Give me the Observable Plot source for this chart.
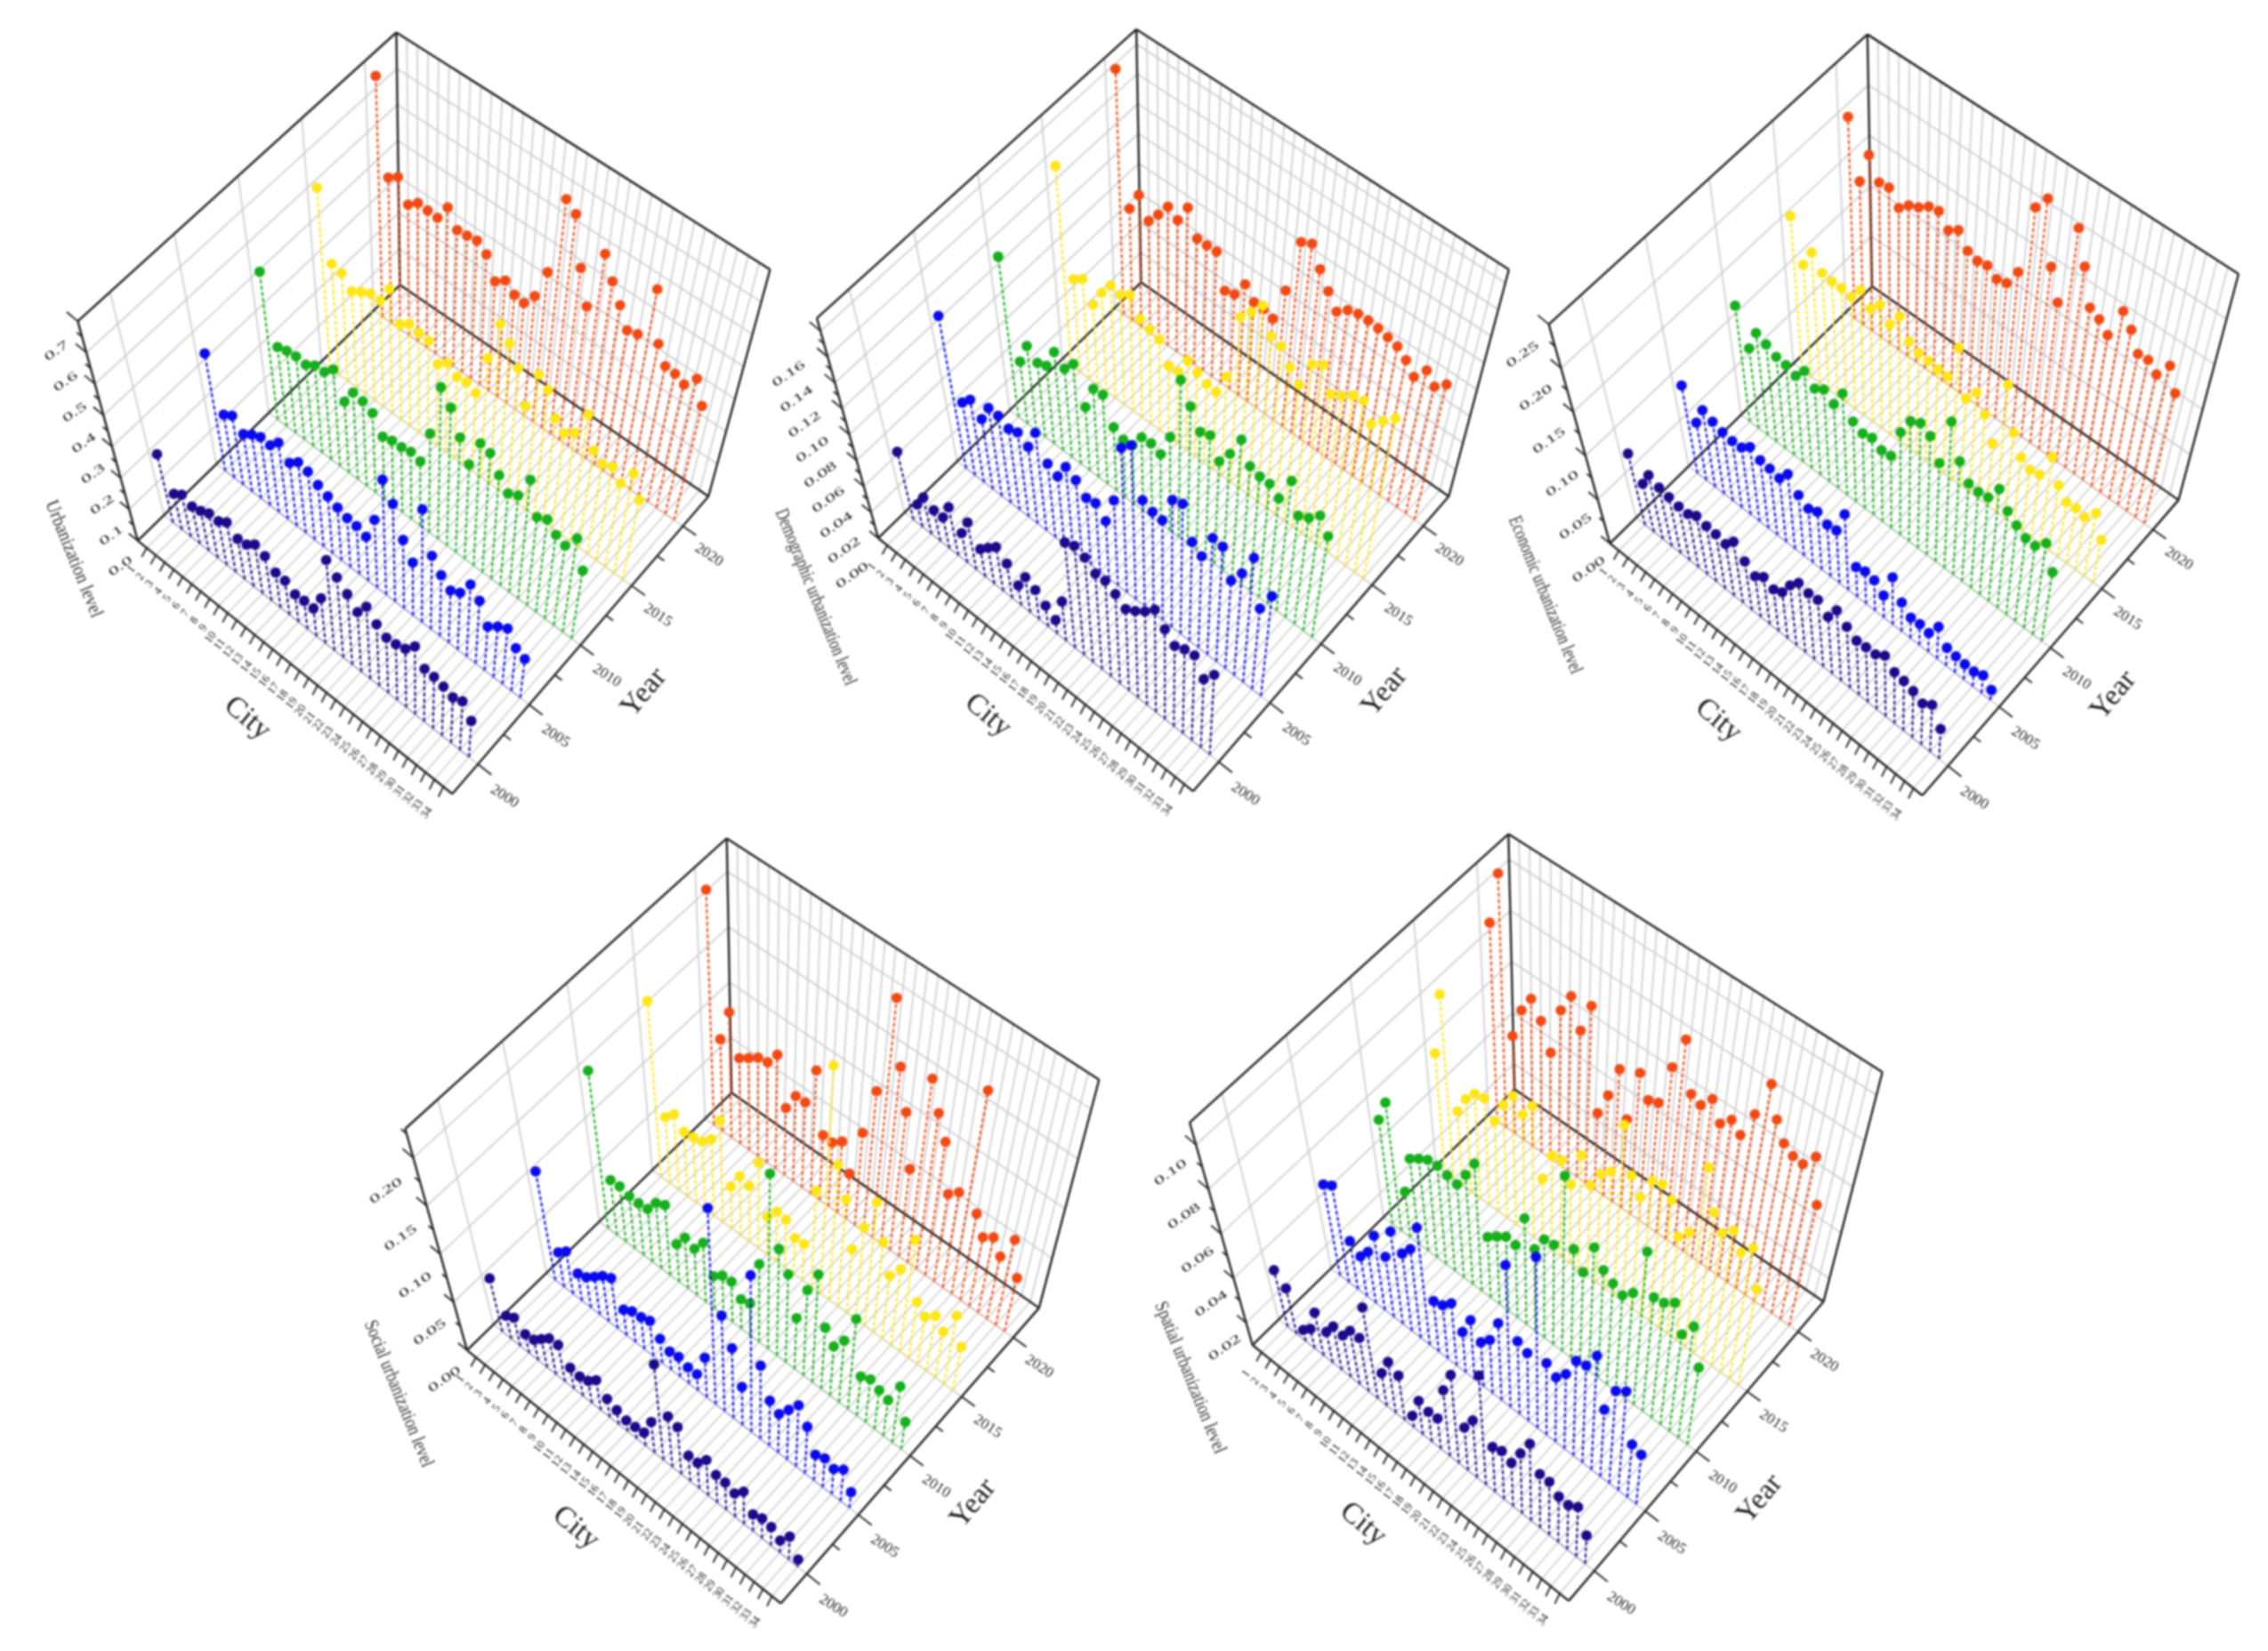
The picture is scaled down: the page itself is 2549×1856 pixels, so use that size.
<!DOCTYPE html>
<html><head><meta charset="utf-8">
<style>html,body{margin:0;background:#fff}svg{display:block;filter:blur(.8px)}</style>
<script src="https://cdn.jsdelivr.net/npm/d3@7"></script>
<script src="https://cdn.jsdelivr.net/npm/@observablehq/plot@0.6"></script>
</head><body><div id="chart"></div><script>
const years=[2000,2005,2010,2015,2020];
const yearColors=["#1c0a8c","#0a0af0","#16b01c","#ffe619","#f24a12"];
const cities=d3.range(1,35);
const urban2000=[.228,.120,.142,.127,.137,.154,.153,.175,.143,.149,.176,.161,.128,.125,.102,.105,.104,.170,.345,.308,.273,.233,.284,.245,.222,.226,.238,.279,.218,.216,.207,.193,.208,.156];
const urban2005=[.375,.203,.223,.187,.209,.225,.222,.255,.212,.239,.232,.211,.197,.183,.172,.169,.157,.243,.414,.354,.250,.194,.418,.273,.228,.198,.217,.277,.243,.171,.199,.220,.171,.156];
const urban2010=[.451,.243,.253,.258,.254,.274,.276,.307,.227,.279,.274,.259,.205,.215,.217,.225,.216,.334,.517,.473,.396,.328,.427,.419,.367,.328,.347,.430,.321,.339,.309,.296,.350,.256];
const urban2015=[.527,.325,.318,.285,.304,.320,.320,.376,.290,.312,.306,.303,.252,.277,.255,.260,.247,.381,.515,.475,.418,.318,.444,.417,.346,.320,.345,.431,.332,.310,.325,.291,.350,.281];
const urban2020=[.674,.409,.430,.371,.395,.393,.392,.442,.396,.400,.406,.385,.325,.348,.325,.321,.362,.456,.702,.679,.534,.436,.623,.559,.506,.448,.458,.626,.472,.422,.420,.407,.449,.381];
const demo2000=[.0551,.0183,.0300,.0255,.0257,.0404,.0248,.0401,.0237,.0311,.0382,.0302,.0175,.0312,.0263,.0189,.0124,.0360,.0976,.1018,.0982,.0906,.0913,.0860,.0791,.0848,.0922,.1017,.0900,.0813,.0857,.0875,.0710,.0837];
const demo2005=[.118,.0566,.0646,.0552,.0697,.0696,.0651,.0681,.0625,.0800,.0608,.0564,.0704,.0656,.0568,.0586,.0495,.0738,.1263,.1354,.0938,.0904,.0896,.1149,.1185,.0907,.0845,.1086,.1078,.0830,.0971,.1195,.0779,.0974];
const demo2010=[.1185,.0462,.0630,.0558,.0589,.0748,.0676,.0768,.0490,.0688,.0697,.0499,.0457,.0468,.0588,.0596,.0567,.0766,.1297,.1141,.0992,.1025,.0868,.0995,.1181,.1017,.0992,.0994,.0931,.1151,.0908,.0956,.1043,.0923];
const demo2015=[.1413,.0660,.0712,.0578,.0713,.0817,.0802,.0852,.0726,.0702,.0679,.0533,.0541,.0675,.0638,.0603,.0594,.0767,.1292,.1389,.1499,.1315,.1295,.1186,.1102,.1328,.1385,.1205,.1253,.1318,.1336,.1201,.1289,.1378];
const demo2020=[.1664,.0762,.0902,.0770,.0862,.0965,.0919,.1056,.0886,.0887,.0891,.0660,.0682,.0803,.0724,.0720,.0701,.0960,.1373,.1415,.1277,.1164,.1063,.1128,.1154,.1158,.1152,.1137,.1121,.1068,.0990,.1098,.1023,.1098];
const econ2000=[.0853,.0581,.0775,.0717,.0690,.0668,.0667,.0737,.0703,.0694,.0665,.0792,.0634,.0536,.0623,.0558,.0619,.0814,.0950,.0913,.0928,.0797,.0995,.0869,.0779,.0793,.0799,.0890,.0759,.0741,.0700,.0626,.0720,.0460];
const econ2005=[.1003,.0661,.0889,.0840,.0803,.0784,.0795,.0888,.0818,.0804,.0777,.0917,.0748,.0670,.0721,.0652,.0671,.0969,.0384,.0420,.0396,.0289,.0624,.0384,.0275,.0284,.0257,.0439,.0247,.0226,.0213,.0208,.0254,.0143];
const econ2010=[.1265,.0877,.1125,.1079,.1022,.1010,.0969,.1105,.0987,.1058,.0974,.1181,.0938,.0882,.0913,.0850,.0868,.1241,.1465,.1532,.1464,.1220,.1831,.1428,.1240,.1227,.1250,.1453,.1260,.1171,.1097,.1091,.1225,.0931];
const econ2015=[.1608,.1173,.1378,.1235,.1220,.1226,.1207,.1355,.1231,.1352,.1215,.1380,.1178,.1131,.1121,.1103,.1104,.1512,.1009,.1159,.0984,.0726,.1502,.1014,.0801,.0737,.0761,.1059,.0796,.0672,.0683,.0654,.0791,.0537];
const econ2020=[.2019,.1441,.1779,.1572,.1591,.1453,.1552,.1604,.1686,.1712,.1584,.1659,.1512,.1481,.1506,.1435,.1465,.1662,.2451,.2631,.1955,.1635,.2553,.2201,.1818,.1767,.1665,.2023,.1891,.1692,.1704,.1616,.1804,.1559];
const social2000=[.0581,.0253,.0312,.0210,.0229,.0319,.0410,.0419,.0241,.0225,.0257,.0351,.0217,.0169,.0132,.0140,.0160,.0380,.1188,.0634,.0593,.0326,.0328,.0459,.0361,.0357,.0311,.0433,.0225,.0269,.0250,.0166,.0320,.0103];
const social2005=[.1129,.0361,.0446,.0288,.0324,.0404,.0492,.0546,.0280,.0340,.0354,.0391,.0270,.0207,.0226,.0186,.0187,.0462,.2301,.1129,.0832,.0457,.1890,.0889,.0550,.0477,.0617,.0765,.0587,.0325,.0368,.0324,.0408,.0206];
const social2010=[.1567,.0548,.0557,.0528,.0526,.0540,.0673,.0725,.0392,.0532,.0490,.0627,.0346,.0426,.0435,.0319,.0349,.0858,.1943,.1189,.0986,.0573,.0970,.1234,.0706,.0571,.0721,.1058,.0465,.0512,.0465,.0430,.0682,.0333];
const social2015=[.1670,.0630,.0724,.0621,.0635,.0659,.0750,.1003,.0415,.0585,.0557,.0861,.0382,.0502,.0489,.0367,.0375,.1001,.2398,.1427,.1136,.0678,.0987,.1338,.0980,.0689,.0837,.1238,.0625,.0535,.0622,.0519,.0780,.0501];
const social2020=[.2147,.0843,.1154,.0792,.0855,.0922,.0943,.1077,.0635,.0813,.0817,.1189,.0629,.0622,.0696,.0443,.0912,.1396,.2401,.1783,.1397,.0888,.1883,.1603,.1380,.0908,.0997,.2143,.0914,.0735,.0806,.0670,.0924,.0581];
const spatial2000=[.0367,.0316,.0153,.0193,.0308,.0250,.0313,.0305,.0366,.0368,.0561,.0266,.0361,.0330,.0160,.0276,.0258,.0262,.0454,.0578,.0334,.0414,.0706,.0351,.0371,.0347,.0444,.0544,.0413,.0413,.0370,.0365,.0399,.0272];
const spatial2005=[.0509,.0538,.0319,.0282,.0336,.0445,.0381,.0535,.0466,.0523,.0662,.0344,.0359,.0405,.0299,.0394,.0320,.0368,.0490,.0826,.0474,.0452,.0993,.0477,.0441,.0499,.0609,.0626,.0721,.0467,.0612,.0653,.0397,.0381];
const spatial2010=[.0548,.0654,.0298,.0473,.0505,.0532,.0538,.0528,.0520,.0595,.0681,.0378,.0413,.0445,.0439,.0599,.0488,.0568,.0578,.0947,.0628,.0551,.0709,.0634,.0604,.0582,.0631,.0879,.0684,.0694,.0734,.0607,.0688,.0509];
const spatial2015=[.0592,.0865,.0408,.0488,.0540,.0551,.0484,.0582,.0651,.0602,.0670,.0383,.0514,.0525,.0448,.0610,.0507,.0589,.0633,.0879,.0681,.0613,.0722,.0739,.0700,.0561,.0615,.0961,.0780,.0715,.0763,.0691,.0748,.0580];
const spatial2020=[.0885,.1109,.0489,.0619,.0693,.0632,.0530,.0731,.0818,.0705,.0836,.0418,.0520,.0659,.0475,.0702,.0615,.0633,.0817,.0969,.0762,.0744,.0801,.0724,.0772,.0735,.0861,.1031,.0902,.0825,.0799,.0795,.0862,.0668];
const urbanTicks=[0,.1,.2,.3,.4,.5,.6,.7];
const demoTicks=[0,.02,.04,.06,.08,.10,.12,.14,.16];
const econTicks=[0,.05,.10,.15,.20,.25];
const socialTicks=[0,.05,.10,.15,.20];
const spatialTicks=[.02,.04,.06,.08,.10];

// Panel layout: a perspective box (floor corners, vanishing point) in a local frame placed on the page.
const panels=[
 {name:"Urbanization level",series:[urban2000,urban2005,urban2010,urban2015,urban2020],ticks:urbanTicks,fmt:1,vmin:0,vtop:.7,
  ox:0,oy:0,sx:1.782,sy:1.704,L:[275,1035],B:[800,545],F:[905,1520],R:[1418,950],vp:[836,3000],ttl:[-2.7,1993.8],tlen:140,zl:[.5,1995.4]},
 {name:"Demographic urbanization level",series:[demo2000,demo2005,demo2010,demo2015,demo2020],ticks:demoTicks,fmt:2,vmin:0,vtop:.17,
  ox:850,oy:0,sx:1.845,sy:1.704,L:[252,1030],B:[797,540],F:[905,1515],R:[1435,950],vp:[847,3000],ttl:[-.1,1991.7],tlen:212,zl:[.7,1994.4]},
 {name:"Economic urbanization level",series:[econ2000,econ2005,econ2010,econ2015,econ2020],ticks:econTicks,fmt:2,vmin:0,vtop:.25,
  ox:1680,oy:0,sx:1.823,sy:1.704,L:[235,1040],B:[772,548],F:[875,1523],R:[1400,957],vp:[820,3000],ttl:[-.7,1992],tlen:189,zl:[.3,1995.2]},
 {name:"Social urbanization level",series:[social2000,social2005,social2010,social2015,social2020],ticks:socialTicks,fmt:2,vmin:0,vtop:.23,
  ox:390,oy:920,sx:1.823,sy:1.704,L:[245,1018],B:[787,525],F:[888,1503],R:[1417,937],vp:[837,3000],ttl:[-1.4,1992.3],tlen:176,zl:[.4,1995]},
 {name:"Spatial urbanization level",series:[spatial2000,spatial2005,spatial2010,spatial2015,spatial2020],ticks:spatialTicks,fmt:2,vmin:.01,vtop:.11,
  ox:1270,oy:920,sx:1.823,sy:1.704,L:[250,1008],B:[787,518],F:[898,1498],R:[1420,925],vp:[851,3000],ttl:[-1.7,1993.1],tlen:182,zl:[.2,1995.3]}
];
const C0=0,C1=35,Y0=1997.5,Y1=2022.5;
const KL=.214,KB=.197,KR=.212,KF=.2;
function project(p,c,y,v,frame){
  const u=(c-C0)/(C1-C0),w=(y-Y0)/(Y1-Y0);
  const mix=(a,b,d,e)=>(1-u)*((1-w)*a+w*b)+u*((1-w)*d+w*e);
  const fx=mix(p.L[0],p.B[0],p.F[0],p.R[0]),fy=mix(p.L[1],p.B[1],p.F[1],p.R[1]);
  const k=frame?mix(KL,KB,KF,KR):.2;
  const s=1+k*(v-p.vmin)/(p.vtop-p.vmin);
  return [p.ox+(p.vp[0]+(fx-p.vp[0])*s)/p.sx,p.oy+(p.vp[1]+(fy-p.vp[1])*s)/p.sy];
}
const px=(p,c,y,v,f)=>project(p,c,y,v,f)[0],py=(p,c,y,v,f)=>project(p,c,y,v,f)[1];

const rows=[],wallGrid=[],floorGrid=[],frameEdges=[],tickMarks=[],zLabels=[],yLabels=[],cLabels=[],titles=[],baseLines=[];
const seg=(p,a,b)=>({x1:px(p,...a,true),y1:py(p,...a,true),x2:px(p,...b,true),y2:py(p,...b,true)});
panels.forEach((p,pi)=>{
  p.series.forEach((vals,si)=>vals.forEach((value,ci)=>rows.push({panel:pi,year:years[si],city:cities[ci],value})));
  const lo=p.vmin,hi=p.vtop;
  cities.forEach(c=>{
    floorGrid.push(seg(p,[c,Y0,lo],[c,Y1,lo]));
    wallGrid.push(seg(p,[c,Y1,lo],[c,Y1,hi]));
    tickMarks.push(seg(p,[c,Y0,lo],[c+.25,Y0-.7,lo]));
    cLabels.push({text:String(c),x:px(p,c+.3,Y0-1.6,lo,true),y:py(p,c+.3,Y0-1.6,lo,true)});
  });
  years.forEach((y,i)=>{
    floorGrid.push(seg(p,[C0,y,lo],[C1,y,lo]));
    baseLines.push({...seg(p,[1,y,lo],[34,y,lo]),year:y});
    wallGrid.push(seg(p,[C0,y,lo],[C0,y,hi]));
    tickMarks.push(seg(p,[C1,y,lo],[C1+1.5,y,lo]));
    if(i<4)tickMarks.push(seg(p,[C1,y+2.5,lo],[C1+.8,y+2.5,lo]));
    yLabels.push({text:String(y),x:px(p,C1+3.6,y-.5,lo,true),y:py(p,C1+3.6,y-.5,lo,true)});
  });
  p.ticks.forEach((t,i)=>{
    wallGrid.push(seg(p,[C0,Y0,t],[C0,Y1,t]));
    wallGrid.push(seg(p,[C0,Y1,t],[C1,Y1,t]));
    tickMarks.push(seg(p,[C0,Y0,t],[-1,Y0,t]));
    const m=t+(p.ticks[1]-p.ticks[0])/2;
    if(m<hi)tickMarks.push(seg(p,[C0,Y0,m],[-.5,Y0,m]));
    zLabels.push({text:t.toFixed(p.fmt),x:px(p,p.zl[0],p.zl[1],t,true),y:py(p,p.zl[0],p.zl[1],t,true)});
  });
  [[[C0,Y0,lo],[C1,Y0,lo]],[[C1,Y0,lo],[C1,Y1,lo]],[[C0,Y0,lo],[C0,Y1,lo]],[[C0,Y1,lo],[C1,Y1,lo]],
   [[C0,Y0,lo],[C0,Y0,hi]],[[C0,Y1,lo],[C0,Y1,hi]],[[C1,Y1,lo],[C1,Y1,hi]],
   [[C0,Y0,hi],[C0,Y1,hi]],[[C0,Y1,hi],[C1,Y1,hi]]].forEach(([a,b])=>frameEdges.push(seg(p,a,b)));
  titles.push({text:"City",cls:"c",x:px(p,17.5,1993,lo,true),y:py(p,17.5,1993,lo,true)});
  titles.push({text:"Year",cls:"y",x:px(p,42,2010,lo,true),y:py(p,42,2010,lo,true)});
  titles.push({text:p.name,cls:"z",x:px(p,p.ttl[0],p.ttl[1],lo,true),y:py(p,p.ttl[0],p.ttl[1],lo,true)});
});
const P=d=>panels[d.panel];
const marks=[
  Plot.link(floorGrid,{x1:"x1",y1:"y1",x2:"x2",y2:"y2",stroke:"#d0d0d0",strokeWidth:1.6}),
  Plot.link(wallGrid,{x1:"x1",y1:"y1",x2:"x2",y2:"y2",stroke:"#cbcbd0",strokeWidth:1.6}),
  Plot.link(baseLines,{x1:"x1",y1:"y1",x2:"x2",y2:"y2",stroke:"year",strokeOpacity:.28,strokeWidth:1.5}),
  Plot.link(frameEdges,{x1:"x1",y1:"y1",x2:"x2",y2:"y2",stroke:"#222",strokeWidth:2.4}),
  Plot.link(tickMarks,{x1:"x1",y1:"y1",x2:"x2",y2:"y2",stroke:"#222",strokeWidth:1.8})
];
[...years].reverse().forEach(yr=>{
  const sub=rows.filter(d=>d.year===yr);
  marks.push(Plot.link(sub,{
    x1:d=>px(P(d),d.city,d.year,P(d).vmin),y1:d=>py(P(d),d.city,d.year,P(d).vmin),
    x2:d=>px(P(d),d.city,d.year,d.value),y2:d=>py(P(d),d.city,d.year,d.value),
    stroke:"year",strokeWidth:2.1,strokeDasharray:"4.5,2.5"}));
  marks.push(Plot.dot(sub,{x:d=>px(P(d),d.city,d.year,d.value),y:d=>py(P(d),d.city,d.year,d.value),fill:"year",r:5.9}));
});
const serif="'Liberation Serif',serif";
marks.push(
  Plot.text(cLabels,{x:"x",y:"y",text:"text",rotate:-52,textAnchor:"end",fontSize:13,fontFamily:serif,fill:"#222"}),
  Plot.text(yLabels,{x:"x",y:"y",text:"text",rotate:33,fontSize:17,fontFamily:serif,fill:"#222"}),
  Plot.text(zLabels,{x:"x",y:"y",text:"text",rotate:-35,fontSize:19,fontFamily:serif,fill:"#222",className:"zlab"}),
  Plot.text(titles.filter(d=>d.cls==="c"),{x:"x",y:"y",text:"text",rotate:40,fontSize:33,fontFamily:serif,fill:"#222"}),
  Plot.text(titles.filter(d=>d.cls==="y"),{x:"x",y:"y",text:"text",rotate:-50,fontSize:33,fontFamily:serif,fill:"#222"}),
  Plot.text(titles.filter(d=>d.cls==="z"),{x:"x",y:"y",text:"text",rotate:68,fontSize:22,fontFamily:serif,fill:"#333",className:"ztitle"})
);
const chart=Plot.plot({width:2549,height:1856,margin:0,
  x:{domain:[0,2549],range:[0,2549],axis:null},
  y:{domain:[0,1856],range:[0,1856],axis:null},
  color:{type:"ordinal",domain:years,range:yearColors},
  style:{background:"#fff"},marks});
chart.querySelectorAll(".zlab text").forEach(t=>t.setAttribute("transform",t.getAttribute("transform")+" scale(1.25,.72)"));
const lens=panels.map(p=>p.tlen);
chart.querySelectorAll(".ztitle text").forEach((t,i)=>{t.setAttribute("textLength",lens[i]);t.setAttribute("lengthAdjust","spacingAndGlyphs");});
document.getElementById("chart").append(chart);
</script></body></html>
